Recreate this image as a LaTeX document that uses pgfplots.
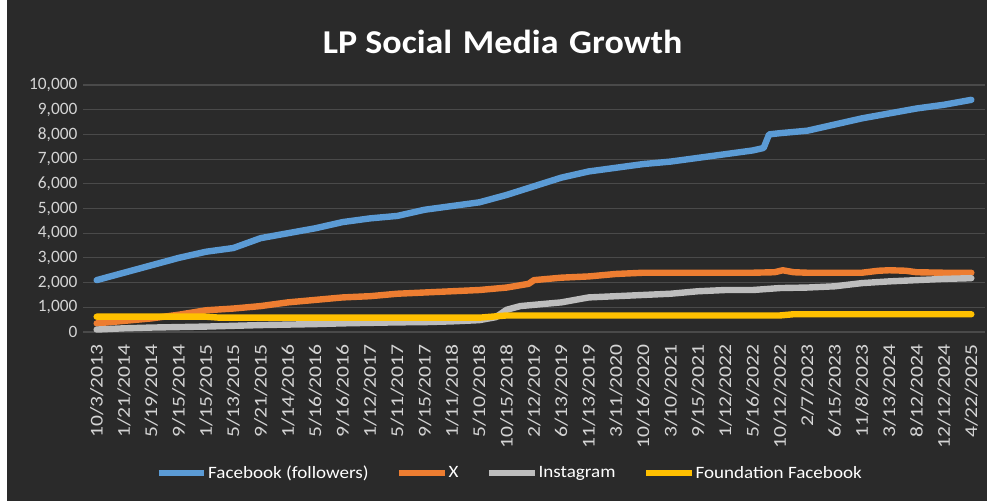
\documentclass[border=0pt]{standalone}
\usepackage{fontspec}
\setmainfont{Carlito}
\newfontfamily\widefont[FakeStretch=1.2]{Carlito}
\newfontfamily\legfont[FakeStretch=1.1]{Carlito}
\newfontfamily\titlefont[FakeStretch=1.08]{Carlito}
\usepackage{pgfplots}
\pgfplotsset{compat=1.18}
\definecolor{bg}{HTML}{2A2A2A}
\definecolor{gridc}{HTML}{4A4A4A}
\definecolor{tickc}{HTML}{D4D4D4}
\definecolor{fbblue}{HTML}{5B9BD5}
\definecolor{xorange}{HTML}{ED7D31}
\definecolor{iggray}{HTML}{BDBDBD}
\definecolor{fdyellow}{HTML}{FFC000}
\begin{document}
\begin{tikzpicture}
\path[use as bounding box, fill=bg] (0pt,0pt) rectangle (740.25pt,375.75pt);
\fill[white] (0pt,0pt) rectangle (5.5pt,375.75pt);
\node[font=\titlefont\bfseries\fontsize{25}{28}\selectfont, text=white] at (377pt,344pt) {LP Social\hspace{8pt}Media\hspace{8pt}Growth};
\begin{axis}[
  at={(62.25pt,126.75pt)}, anchor=south west,
  width=676.5pt, height=185.25pt, scale only axis,
  xmin=-0.5, xmax=32.5, ymin=0, ymax=10000,
  xtick={0,...,32},
  xticklabels={10/3/2013,1/21/2014,5/19/2014,9/15/2014,1/15/2015,5/13/2015,9/21/2015,1/14/2016,5/16/2016,9/16/2016,1/12/2017,5/11/2017,9/15/2017,1/11/2018,5/10/2018,10/15/2018,2/12/2019,6/13/2019,11/13/2019,3/11/2020,10/16/2020,3/10/2021,9/15/2021,1/12/2022,5/16/2022,10/12/2022,2/7/2023,6/15/2023,11/8/2023,3/13/2024,8/12/2024,12/12/2024,4/22/2025},
  ytick={0,1000,...,10000},
  scaled y ticks=false,
  /pgf/number format/assume math mode=true,
  /pgf/number format/1000 sep={,},
  yticklabel style={text=tickc, font=\fontsize{13}{14}\selectfont, inner sep=0pt, xshift=-4pt},
  xticklabel style={text=tickc, font=\widefont\fontsize{13.5}{14}\selectfont, rotate=90, anchor=east, inner sep=0pt},
  xticklabel shift=9pt,
  major tick length=0pt,
  ymajorgrids, grid style={gridc, line width=0.8pt},
  axis line style={draw=none},
  every axis plot/.append style={line width=4.8pt, line join=round, line cap=round},
  legend columns=4,
  legend style={at={(0.473,-0.571)}, anchor=center, draw=none, fill=none, text=white,
    font=\legfont\fontsize{13}{14}\selectfont,
    /tikz/every even column/.append style={column sep=20pt},
    nodes={inner sep=1pt}},
  legend image code/.code={\draw[#1, line width=4pt, line cap=butt] (0pt,0pt) -- (34pt,0pt);},
]
\addplot[fbblue] coordinates {(0,2100)(1,2400)(2,2700)(3,3000)(4,3250)(5,3400)(6,3800)(7,4000)(8,4200)(9,4450)(10,4600)(11,4700)(12,4950)(13,5100)(14,5250)(15,5550)(16,5900)(17,6250)(18,6500)(19,6650)(20,6800)(21,6900)(22,7050)(23,7200)(24,7350)(24.4,7450)(24.6,8000)(25,8050)(26,8150)(27,8400)(28,8650)(29,8850)(30,9050)(31,9200)(32,9400)};
\addlegendentry{Facebook (followers)}
\addplot[xorange] coordinates {(0,350)(1,450)(2,550)(3,700)(4,880)(5,950)(6,1050)(7,1200)(8,1300)(9,1400)(10,1450)(11,1550)(12,1600)(13,1650)(14,1700)(15,1800)(15.8,1950)(16,2100)(17,2200)(18,2250)(19,2350)(20,2400)(21,2400)(22,2400)(23,2400)(24,2400)(24.8,2420)(25.1,2500)(25.5,2420)(26,2400)(27,2400)(28,2400)(28.6,2480)(29,2500)(29.6,2480)(30,2420)(31,2400)(32,2400)};
\addlegendentry{X}
\addplot[iggray] coordinates {(0,100)(1,150)(2,180)(3,200)(4,220)(5,250)(6,280)(7,300)(8,320)(9,350)(10,370)(11,390)(12,400)(13,430)(14,480)(14.6,600)(15,900)(15.5,1050)(16,1100)(17,1200)(18,1400)(19,1450)(20,1500)(21,1550)(22,1650)(23,1700)(24,1700)(25,1780)(26,1800)(27,1850)(28,1980)(29,2050)(30,2100)(31,2150)(32,2180)};
\addlegendentry{Instagram}
\addplot[fdyellow] coordinates {(0,620)(4,620)(4.5,580)(14,580)(15,670)(25,670)(25.5,720)(32,720)};
\addlegendentry{Foundation Facebook}
\end{axis}
\end{tikzpicture}
\end{document}
